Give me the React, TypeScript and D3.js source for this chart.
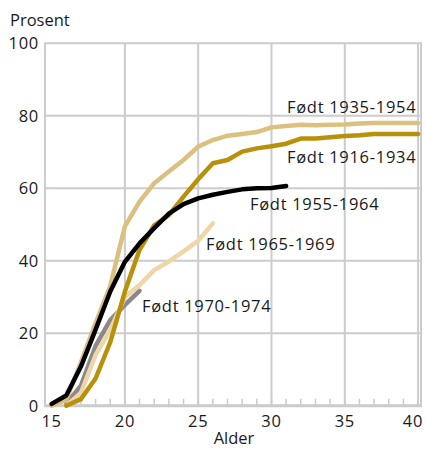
import React from "react";
import * as d3 from "d3";

const ages1935 = d3.range(15, 41);
const vals1935 = [0, 1.6, 12, 22.8, 33, 49.5, 56.3, 61.4, 64.6, 67.8, 71.5, 73.3, 74.5, 75, 75.5, 76.8, 77.2, 77.5, 77.4, 77.5, 77.6, 77.9, 78, 78, 78, 78];
const ages1916 = d3.range(16, 41);
const vals1916 = [0, 1.8, 7.5, 17.5, 31.5, 43, 49.8, 52.6, 57.7, 62.5, 66.9, 67.8, 70.1, 71, 71.6, 72.3, 73.7, 73.7, 74.1, 74.4, 74.6, 75, 75, 75, 75];
const ages1955 = d3.range(15, 32);
const vals1955 = [0.5, 2.8, 10.8, 21, 31.5, 39.7, 44.8, 49, 53, 55.6, 57.2, 58.2, 59, 59.7, 60, 60.1, 60.6];
const ages1965 = d3.range(16, 27);
const vals1965 = [0, 3.5, 14, 20.9, 30, 33.3, 37.4, 39.8, 42.6, 45.5, 50.3];
const ages1970 = d3.range(16, 22);
const vals1970 = [0.5, 5.5, 16.5, 23.6, 27.8, 31.7];

const seriesNames = ["Født 1935-1954", "Født 1916-1934", "Født 1955-1964", "Født 1965-1969", "Født 1970-1974"];
const seriesColors = ["#dcc07f", "#b8900a", "#000000", "#efd6a8", "#8a8a8a"];

const yTicks = [0, 20, 40, 60, 80, 100];
const xTicks = [15, 20, 25, 30, 35, 40];
const xMinor = d3.range(16, 40);

export default function App() {
  const W = 426, H = 449;
  const x = d3.scaleLinear().domain([14.55, 40.2]).range([45, 421]);
  const y = d3.scaleLinear().domain([0, 100]).range([405.7, 43.3]);
  const line = d3.line<[number, number]>().x(d => x(d[0])).y(d => y(d[1]));

  const series = [
    { ages: ages1935, vals: vals1935 },
    { ages: ages1916, vals: vals1916 },
    { ages: ages1955, vals: vals1955 },
    { ages: ages1965, vals: vals1965 },
    { ages: ages1970, vals: vals1970 },
  ];
  const labels = [
    { x: 287, y: 113 },
    { x: 287, y: 163 },
    { x: 250, y: 210 },
    { x: 206, y: 250 },
    { x: 142, y: 312 },
  ];
  const order = [4, 3, 1, 0, 2];
  const font = "'Open Sans', 'Noto Sans', sans-serif";
  const grid = "#cccccc";
  const ls = 0.7;

  return (
    <svg width={W} height={H} style={{ position: "absolute", left: 0, top: 0 }} fontFamily={font}>
      <rect width={W} height={H} fill="#fff" />
      {yTicks.map(t => (
        <line key={"gy" + t} x1={45} x2={421} y1={y(t)} y2={y(t)} stroke={grid} strokeWidth={2} />
      ))}
      {xTicks.filter(t => t > 15).map(t => (
        <line key={"gx" + t} x1={x(t)} x2={x(t)} y1={y(0)} y2={y(100)} stroke={grid} strokeWidth={2} />
      ))}
      <line x1={45} x2={45} y1={y(0)} y2={y(100) - 1} stroke={grid} strokeWidth={2} />
      <line x1={421} x2={421} y1={y(0)} y2={y(100) - 1} stroke={grid} strokeWidth={2} />
      {xMinor.map(t => (
        <line key={"mx" + t} x1={x(t)} x2={x(t)} y1={y(0)} y2={y(0) - 7} stroke={grid} strokeWidth={1.5} />
      ))}
      <line x1={44} x2={422} y1={y(0)} y2={y(0)} stroke={grid} strokeWidth={3} />
      {yTicks.map(t => (
        <text key={"ty" + t} x={39} y={y(t) + 6} textAnchor="end" fontSize={16.5} letterSpacing={ls} fill="#1a1a1a">{t}</text>
      ))}
      {xTicks.map(t => (
        <text key={"tx" + t} x={Math.min(x(t), 413)} y={427} textAnchor="middle" fontSize={16.5} letterSpacing={ls} fill="#1a1a1a">{t}</text>
      ))}
      <text x={10} y={26} fontSize={16.5} fill="#1a1a1a">Prosent</text>
      <text x={234} y={444} textAnchor="middle" fontSize={16.5} fill="#1a1a1a">Alder</text>
      {order.map(i => {
        const s = series[i];
        const pts = s.ages.map((a, j) => [a, s.vals[j]] as [number, number]);
        return (
          <path key={"s" + i} d={line(pts) || ""} fill="none" stroke={seriesColors[i]} strokeWidth={4.5}
            strokeLinejoin="round" strokeLinecap="round" />
        );
      })}
      {labels.map((l, i) => (
        <text key={"l" + i} x={l.x} y={l.y} fontSize={16.5} letterSpacing={ls} fill="#1a1a1a">{seriesNames[i]}</text>
      ))}
    </svg>
  );
}
